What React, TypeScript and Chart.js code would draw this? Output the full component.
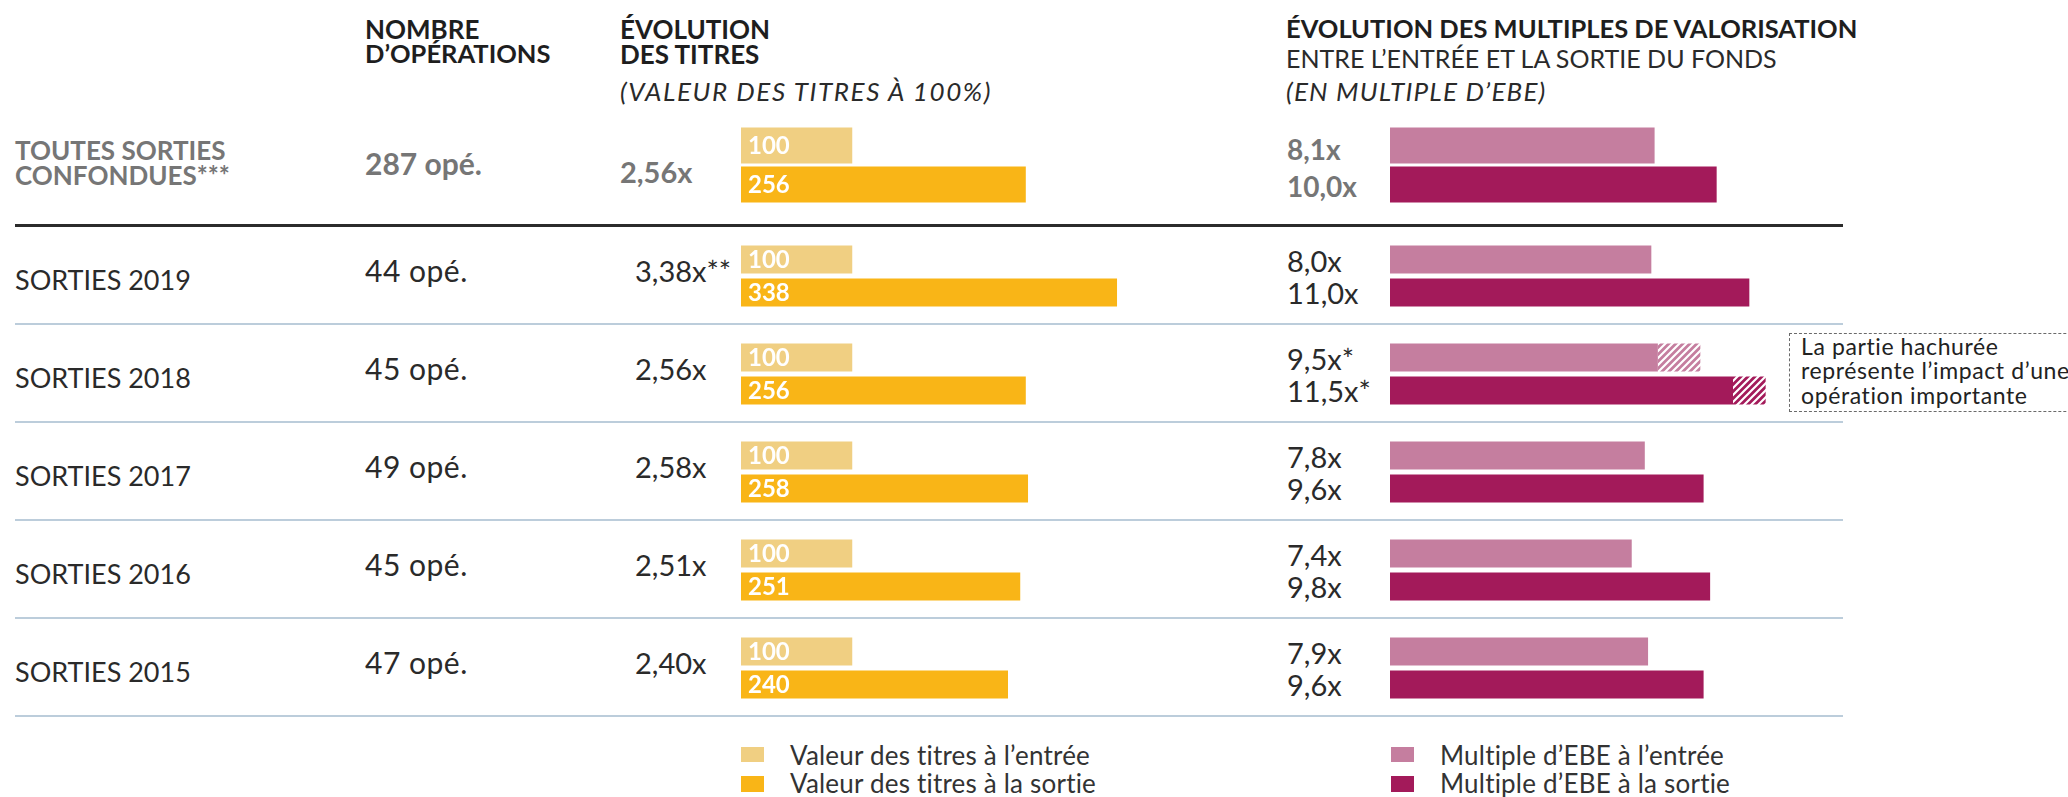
import React, { useEffect, useRef } from 'react';
import { Chart, registerables } from 'chart.js';

Chart.register(...registerables);

const FONT = 'Lato, "Noto Sans", "DejaVu Sans", sans-serif';

// ---------- data ----------
const rowLabels = ['SORTIES 2019', 'SORTIES 2018', 'SORTIES 2017', 'SORTIES 2016', 'SORTIES 2015'];
const operations = [44, 45, 49, 45, 47];
const titresEntree = [100, 100, 100, 100, 100];
const titresSortie = [338, 256, 258, 251, 240];
const titresMarks = ['**', '', '', '', ''];
const ebeEntree = [8.0, 9.5, 7.8, 7.4, 7.9];
const ebeSortie = [11.0, 11.5, 9.6, 9.8, 9.6];
const ebeEntreeHachure = [0, 1.3, 0, 0, 0];
const ebeSortieHachure = [0, 1.0, 0, 0, 0];
const ebeMarks = ['', '*', '', '', ''];

const totalLabel = ['TOUTES SORTIES', 'CONFONDUES***'];
const totalOperations = 287;
const totalTitresEntree = [100];
const totalTitresSortie = [256];
const totalEbeEntree = [8.1];
const totalEbeSortie = [10.0];

const headerOps = ['NOMBRE', 'D’OPÉRATIONS'];
const headerTitres = ['ÉVOLUTION', 'DES TITRES'];
const headerTitresSub = '(VALEUR DES TITRES À 100%)';
const headerEbe = 'ÉVOLUTION DES MULTIPLES DE VALORISATION';
const headerEbeSub1 = 'ENTRE L’ENTRÉE ET LA SORTIE DU FONDS';
const headerEbeSub2 = '(EN MULTIPLE D’EBE)';
const legendTitres = ['Valeur des titres à l’entrée', 'Valeur des titres à la sortie'];
const legendEbe = ['Multiple d’EBE à l’entrée', 'Multiple d’EBE à la sortie'];
const noteLines = ['La partie hachurée', 'représente l’impact d’une', 'opération importante'];

const TITRES_MAX = 400;
const EBE_MAX = 12;

// ---------- styles ----------
const C_TIT_IN = '#f0cf82';
const C_TIT_OUT = '#f9b517';
const C_EBE_IN = '#c57e9f';
const C_EBE_OUT = '#a31a5a';
const DARK = '#2a2a2a';
const GRAY = '#767676';

const fmt1 = (v: number) => v.toFixed(1).replace('.', ',') + 'x';
const fmt2 = (v: number) => v.toFixed(2).replace('.', ',') + 'x';

// layout (pixel positions)
const ROW_TOP = 226.5;
const ROW_STEP = 98;
const rowCenter = (i: number) => ROW_TOP + ROW_STEP * (i + 0.5);
const TOP_CENTER = 164.5;
const TIT_LEFT = 741;
const TIT_W = 445;
const EBE_LEFT = 1390;
const EBE_W = 392;

function Txt(props: {
  x: number; base: number; size: number; bold?: boolean; italic?: boolean; color?: string; ls?: number; children: any;
}) {
  const { x, base, size, bold, italic, color, ls, children } = props;
  return (
    <div
      style={{
        position: 'absolute',
        left: x,
        top: base - size * 0.887,
        fontFamily: FONT,
        fontSize: size,
        lineHeight: 1,
        fontWeight: bold ? 700 : 400,
        fontStyle: italic ? 'italic' : 'normal',
        letterSpacing: ls ? ls : 0,
        color: color || DARK,
        whiteSpace: 'nowrap',
      }}
    >
      {children}
    </div>
  );
}

function makeHatch(ctx: CanvasRenderingContext2D, color: string) {
  const t = document.createElement('canvas');
  t.width = 7;
  t.height = 7;
  const g = t.getContext('2d')!;
  g.fillStyle = color;
  g.fillRect(0, 0, 7, 7);
  g.strokeStyle = '#ffffff';
  g.lineWidth = 2.2;
  g.beginPath();
  g.moveTo(-1, 8); g.lineTo(8, -1);
  g.moveTo(-4.5, 4.5); g.lineTo(4.5, -4.5);
  g.moveTo(2.5, 11.5); g.lineTo(11.5, 2.5);
  g.stroke();
  return ctx.createPattern(t, 'repeat');
}

function BarBlock(props: {
  left: number; top: number; width: number; height: number;
  labels: string[]; entree: number[]; sortie: number[];
  entreeHatch?: number[]; sortieHatch?: number[];
  max: number; cIn: string; cOut: string; showValues?: boolean;
  catPct: number; barPct: number;
}) {
  const ref = useRef<HTMLCanvasElement>(null);
  useEffect(() => {
    const canvas = ref.current!;
    const ctx = canvas.getContext('2d')!;
    const { labels, entree, sortie, entreeHatch, sortieHatch, max, cIn, cOut, showValues, catPct, barPct } = props;
    const common = { categoryPercentage: catPct, barPercentage: barPct, borderWidth: 0 };
    const valuePlugin = {
      id: 'values',
      afterDatasetsDraw(chart: any) {
        if (!showValues) return;
        const c = chart.ctx;
        c.save();
        c.fillStyle = '#ffffff';
        c.font = `700 24px ${FONT}`;
        c.textBaseline = 'middle';
        c.textAlign = 'left';
        [[0, entree], [2, sortie]].forEach(([di, vals]: any) => {
          chart.getDatasetMeta(di).data.forEach((el: any, i: number) => {
            c.fillText(String(vals[i]), el.base + 7, el.y + 1);
          });
        });
        c.restore();
      },
    };
    const chart = new Chart(ctx, {
      type: 'bar',
      data: {
        labels,
        datasets: [
          { ...common, label: 'in', stack: 'in', backgroundColor: cIn,
            data: entree.map((v, i) => v - (entreeHatch ? entreeHatch[i] : 0)) },
          { ...common, label: 'inH', stack: 'in', backgroundColor: makeHatch(ctx, cIn) as any,
            data: entree.map((_, i) => (entreeHatch && entreeHatch[i] ? entreeHatch[i] : null)) },
          { ...common, label: 'out', stack: 'out', backgroundColor: cOut,
            data: sortie.map((v, i) => v - (sortieHatch ? sortieHatch[i] : 0)) },
          { ...common, label: 'outH', stack: 'out', backgroundColor: makeHatch(ctx, cOut) as any,
            data: sortie.map((_, i) => (sortieHatch && sortieHatch[i] ? sortieHatch[i] : null)) },
        ],
      },
      options: {
        indexAxis: 'y',
        responsive: false,
        maintainAspectRatio: false,
        devicePixelRatio: 1,
        animation: false,
        layout: { padding: 0 },
        plugins: { legend: { display: false }, tooltip: { enabled: false } },
        scales: {
          x: { type: 'linear', min: 0, max, display: false },
          y: { type: 'category', display: false, offset: true },
        },
      },
      plugins: [valuePlugin],
    });
    return () => chart.destroy();
  }, []);
  return (
    <canvas
      ref={ref}
      width={props.width}
      height={props.height}
      style={{ position: 'absolute', left: props.left, top: props.top, width: props.width, height: props.height }}
    />
  );
}

export default function App() {
  return (
    <div style={{ position: 'absolute', left: 0, top: 0, width: 2068, height: 797, background: '#fff', overflow: 'hidden' }}>
      {/* headers */}
      <Txt x={365} base={39} size={26} bold color="#1e1e1e">{headerOps[0]}</Txt>
      <Txt x={365} base={64} size={25.5} bold color="#1e1e1e">{headerOps[1]}</Txt>
      <Txt x={620} base={39} size={26} bold color="#1e1e1e">{headerTitres[0]}</Txt>
      <Txt x={620} base={64} size={26} bold color="#1e1e1e">{headerTitres[1]}</Txt>
      <Txt x={620} base={101} size={26} italic color="#2a2a2a" ls={1.6}>{headerTitresSub}</Txt>
      <Txt x={1286} base={39} size={25.5} bold color="#1e1e1e">{headerEbe}</Txt>
      <Txt x={1286} base={68} size={25} color="#2a2a2a">{headerEbeSub1}</Txt>
      <Txt x={1286} base={101} size={26} italic color="#2a2a2a" ls={1.2}>{headerEbeSub2}</Txt>

      {/* total row */}
      <Txt x={15} base={160} size={26} bold color={GRAY}>{totalLabel[0]}</Txt>
      <Txt x={15} base={185} size={26} bold color={GRAY}>{totalLabel[1]}</Txt>
      <Txt x={365} base={175} size={30} bold color={GRAY}>{totalOperations} opé.</Txt>
      <Txt x={620} base={183} size={29} bold color={GRAY}>{fmt2(totalTitresSortie[0] / totalTitresEntree[0])}</Txt>
      <Txt x={1287} base={TOP_CENTER - 4.5} size={28} bold color={GRAY}>{fmt1(totalEbeEntree[0])}</Txt>
      <Txt x={1287} base={TOP_CENTER + 32.5} size={28} bold color={GRAY}>{fmt1(totalEbeSortie[0])}</Txt>
      <BarBlock left={TIT_LEFT} top={TOP_CENTER - 50} width={TIT_W} height={100} labels={['total']}
        entree={totalTitresEntree} sortie={totalTitresSortie} max={TITRES_MAX} cIn={C_TIT_IN} cOut={C_TIT_OUT}
        showValues catPct={0.78} barPct={0.923} />
      <BarBlock left={EBE_LEFT} top={TOP_CENTER - 50} width={EBE_W} height={100} labels={['total']}
        entree={totalEbeEntree} sortie={totalEbeSortie} max={EBE_MAX} cIn={C_EBE_IN} cOut={C_EBE_OUT}
        catPct={0.78} barPct={0.923} />

      <div style={{ position: 'absolute', left: 15, top: 224, width: 1828, height: 3, background: '#2b2b2b' }} />

      {/* rows */}
      {rowLabels.map((lab, i) => {
        const c = rowCenter(i);
        return (
          <React.Fragment key={lab}>
            <Txt x={15} base={c + 14} size={27}>{lab}</Txt>
            <Txt x={365} base={c + 6} size={30} ls={0.5}>{operations[i]} opé.</Txt>
            <Txt x={635} base={c + 6} size={29}>{fmt2(titresSortie[i] / titresEntree[i]) + titresMarks[i]}</Txt>
            <Txt x={1287} base={c - 3.5} size={29}>{fmt1(ebeEntree[i]) + ebeMarks[i]}</Txt>
            <Txt x={1287} base={c + 28.5} size={29}>{fmt1(ebeSortie[i]) + ebeMarks[i]}</Txt>
            <div style={{ position: 'absolute', left: 15, top: c + 47, width: 1828, height: 2, background: '#bccddb' }} />
          </React.Fragment>
        );
      })}
      <BarBlock left={TIT_LEFT} top={ROW_TOP} width={TIT_W} height={ROW_STEP * 5} labels={rowLabels}
        entree={titresEntree} sortie={titresSortie} max={TITRES_MAX} cIn={C_TIT_IN} cOut={C_TIT_OUT}
        showValues catPct={0.673} barPct={0.848} />
      <BarBlock left={EBE_LEFT} top={ROW_TOP} width={EBE_W} height={ROW_STEP * 5} labels={rowLabels}
        entree={ebeEntree} sortie={ebeSortie} entreeHatch={ebeEntreeHachure} sortieHatch={ebeSortieHachure}
        max={EBE_MAX} cIn={C_EBE_IN} cOut={C_EBE_OUT} catPct={0.673} barPct={0.848} />

      {/* note */}
      <div style={{ position: 'absolute', left: 1789, top: 333, width: 400, height: 77, border: '1px dashed #6a6a6a' }} />
      {noteLines.map((t, i) => (
        <Txt key={t} x={1801} base={355 + i * 24.5} size={23} ls={0.6} color="#222">{t}</Txt>
      ))}

      {/* legend */}
      <div style={{ position: 'absolute', left: 741, top: 747, width: 23, height: 15, background: C_TIT_IN }} />
      <div style={{ position: 'absolute', left: 741, top: 776, width: 23, height: 16, background: C_TIT_OUT }} />
      <Txt x={790} base={765} size={26} ls={0.2} color="#333">{legendTitres[0]}</Txt>
      <Txt x={790} base={793} size={26} ls={0.2} color="#333">{legendTitres[1]}</Txt>
      <div style={{ position: 'absolute', left: 1391, top: 747, width: 23, height: 15, background: C_EBE_IN }} />
      <div style={{ position: 'absolute', left: 1391, top: 776, width: 23, height: 16, background: C_EBE_OUT }} />
      <Txt x={1440} base={765} size={26} ls={0.2} color="#333">{legendEbe[0]}</Txt>
      <Txt x={1440} base={793} size={26} ls={0.2} color="#333">{legendEbe[1]}</Txt>
    </div>
  );
}
